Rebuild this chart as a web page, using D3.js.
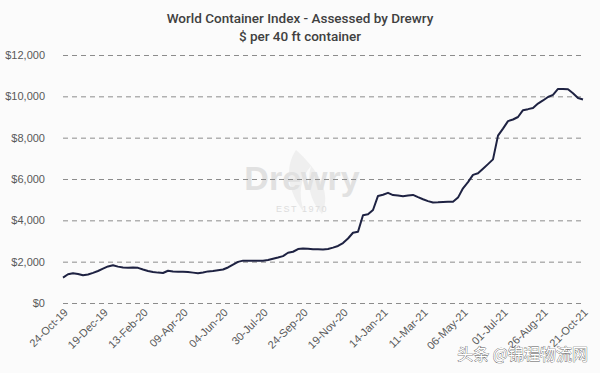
<!DOCTYPE html>
<html>
<meta charset="utf-8">
<script src="https://cdn.jsdelivr.net/npm/d3@7"></script>
<style>
body{
	margin:0;
	background:#fbfbfb;
}
#chart{
	width:600px;
	height:373px;
}
.title{
	font-family: Roboto, "Liberation Sans", Arial, sans-serif;
	font-weight:500;
	fill:#404040;
}
.tick text{
	font-family: "Liberation Sans", Arial, sans-serif;
	font-size:11px;
	fill:#595959;
}
</style>
<body>
	<svg id="chart" width="600" height="373"></svg>
</body>
<script>
// weekly index values, 24-Oct-19 .. 21-Oct-21
const startDate = "2019-10-24";
const values = [
	1230, 1390, 1440, 1400, 1340, 1380, 1460, 1550, 1660, 1770,
	1830, 1760, 1720, 1710, 1720, 1700, 1620, 1550, 1500, 1470,
	1450, 1560, 1520, 1515, 1515, 1500, 1470, 1440, 1480, 1530,
	1550, 1590, 1620, 1720, 1860, 1990, 2050, 2040, 2040, 2050,
	2050, 2080, 2140, 2200, 2270, 2430, 2480, 2610, 2640, 2630,
	2600, 2600, 2590, 2610, 2680, 2760, 2900, 3120, 3400, 3450,
	4250, 4290, 4500, 5180, 5240, 5330, 5220, 5200, 5170, 5200,
	5230, 5120, 5020, 4930, 4860, 4870, 4890, 4900, 4900, 5100,
	5550, 5850, 6200, 6280, 6500, 6720, 6950, 8100, 8440, 8800,
	8880, 9000, 9330, 9380, 9440, 9650, 9800, 9970, 10070, 10360,
	10360, 10340, 10150, 9920, 9850
];
const tickLabels = ["24-Oct-19","19-Dec-19","13-Feb-20","09-Apr-20","04-Jun-20","30-Jul-20","24-Sep-20",
	"19-Nov-20","14-Jan-21","11-Mar-21","06-May-21","01-Jul-21","26-Aug-21","21-Oct-21"];
const yTicks = [0, 2000, 4000, 6000, 8000, 10000, 12000];

const parseTick = d3.timeParse("%d-%b-%y");
const fmtTick = d3.timeFormat("%d-%b-%y");
const t0 = d3.timeParse("%Y-%m-%d")(startDate);
const data = values.map((v, i) => ({date: d3.timeDay.offset(t0, 7*i), value: v}));

const svg = d3.select("#chart");
const margin = {left: 63, right: 17, top: 55, bottom: 70};
const width = 600, height = 373;

const x = d3.scaleTime()
	.domain([t0, data[data.length-1].date])
	.range([margin.left, width - margin.right]);
const y = d3.scaleLinear()
	.domain([0, 12000])
	.range([height - margin.bottom, margin.top]);

// watermark
const wm = svg.append("g").attr("opacity", 0.5);
wm.append("path")
	.attr("d", "M296,150 C284,168 288,192 304,212 C298,194 300,178 311,166 C306,184 310,200 322,214 C332,192 318,170 296,150 Z")
	.attr("fill", "#e4e4e4");
wm.append("text")
	.attr("x", 302).attr("y", 190)
	.attr("text-anchor", "middle")
	.style("font-family", "'Liberation Sans', Arial, sans-serif")
	.style("font-size", "34px")
	.style("font-weight", "bold")
	.style("fill", "#c8c8c8")
	.text("Drewry");
wm.append("text")
	.attr("x", 302).attr("y", 212)
	.attr("text-anchor", "middle")
	.style("font-family", "'Liberation Sans', Arial, sans-serif")
	.style("font-size", "9px")
	.style("letter-spacing", "1.5px")
	.style("fill", "#c0c0c0")
	.text("EST 1970");

// title
svg.append("text").attr("class", "title")
	.attr("x", 300).attr("y", 23)
	.attr("text-anchor", "middle")
	.style("font-size", "13.5px")
	.text("World Container Index - Assessed by Drewry");
svg.append("text").attr("class", "title")
	.attr("x", 300).attr("y", 41)
	.attr("text-anchor", "middle")
	.style("font-size", "13.5px")
	.text("$ per 40 ft container");

// y axis with dashed grid
const yAxis = svg.append("g")
	.attr("transform", "translate(" + margin.left + ",0)")
	.call(d3.axisLeft(y)
		.tickValues(yTicks)
		.tickSize(-(width - margin.left - margin.right))
		.tickPadding(18)
		.tickFormat(d => "$" + d3.format(",")(d)));
yAxis.select(".domain").remove();
yAxis.selectAll(".tick line")
	.attr("stroke", "#8c8c8c")
	.attr("stroke-width", 1)
	.attr("stroke-dasharray", "5,4");

// x axis
const xAxis = svg.append("g")
	.attr("transform", "translate(0," + (height - margin.bottom) + ")")
	.call(d3.axisBottom(x)
		.tickValues(tickLabels.map(parseTick))
		.tickSize(0)
		.tickFormat(fmtTick));
xAxis.select(".domain").remove();
xAxis.selectAll(".tick text")
	.attr("text-anchor", "end")
	.attr("dx", "0")
	.attr("dy", "0")
	.attr("transform", "translate(3,8) rotate(-45)");

// line
svg.append("path")
	.datum(data)
	.attr("fill", "none")
	.attr("stroke", "#1e2242")
	.attr("stroke-width", 2)
	.attr("stroke-linejoin", "round")
	.attr("d", d3.line().x(d => x(d.date)).y(d => y(d.value)));

// publisher mark
svg.append("text")
	.attr("x", 588).attr("y", 360)
	.attr("text-anchor", "end")
	.style("font-family", "'Noto Sans CJK SC', sans-serif")
	.style("font-size", "16px")
	.style("fill", "#ffffff")
	.style("stroke", "#555")
	.style("stroke-width", 0.7)
	.style("paint-order", "stroke")
	.text("头条 @锦程物流网");
</script>
</html>
